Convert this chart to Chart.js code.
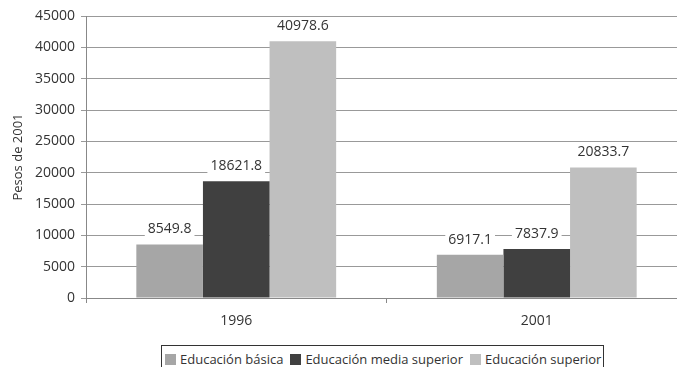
<!DOCTYPE html>
<html>
<head>
<meta charset="utf-8">
<script src="https://cdn.jsdelivr.net/npm/chart.js@4"></script>
<style>
  html, body { margin:0; padding:0; background:#fff; overflow:hidden; width:677px; height:367px; }
  #wrap { position:relative; width:677px; height:367px; overflow:hidden; }
  #legend {
    position:absolute; left:161px; top:345px; height:26px;
    border:1px solid #333; background:#fff;
    display:flex; align-items:center; padding:0 2px 4px 3px;
    font:13px "Open Sans", sans-serif; color:#333; white-space:nowrap;
  }
  #legend .item { display:flex; align-items:center; margin-right:7px; }
  #legend .item:last-child { margin-right:0; }
  #legend .sw { width:11px; height:11px; margin-right:4px; }
</style>
</head>
<body>
<div id="wrap">
  <canvas id="chart" width="687" height="367"></canvas>
  <div id="legend"></div>
</div>
<script>
// data
const years = ['1996', '2001'];
const basica = [8549.8, 6917.1];
const mediaSuperior = [18621.8, 7837.9];
const superior = [40978.6, 20833.7];
const seriesNames = ['Educación básica', 'Educación media superior', 'Educación superior'];
const seriesColors = ['#a6a6a6', '#404040', '#bfbfbf'];
const yTicks = [0, 5000, 10000, 15000, 20000, 25000, 30000, 35000, 40000, 45000];

const font = '"Open Sans", sans-serif';

// value labels with white box above each bar
const barLabels = {
  id: 'barLabels',
  afterDatasetsDraw(chart) {
    const ctx = chart.ctx;
    ctx.save();
    ctx.font = '14px ' + font;
    ctx.textAlign = 'center';
    ctx.textBaseline = 'middle';
    chart.data.datasets.forEach((ds, i) => {
      chart.getDatasetMeta(i).data.forEach((bar, j) => {
        const txt = String(ds.data[j]);
        const w = ctx.measureText(txt).width + 6;
        const cy = bar.y - 15;
        ctx.fillStyle = '#fff';
        ctx.fillRect(bar.x - w / 2, cy - 9, w, 18);
        ctx.fillStyle = '#333';
        ctx.fillText(txt, bar.x, cy);
      });
    });
    ctx.restore();
  }
};

new Chart(document.getElementById('chart'), {
  type: 'bar',
  data: {
    labels: years,
    datasets: [
      { label: seriesNames[0], data: basica, backgroundColor: seriesColors[0] },
      { label: seriesNames[1], data: mediaSuperior, backgroundColor: seriesColors[1] },
      { label: seriesNames[2], data: superior, backgroundColor: seriesColors[2] }
    ]
  },
  options: {
    responsive: false,
    animation: false,
    layout: { padding: { top: 16, right: 0, bottom: 0, left: 0 } },
    datasets: { bar: { categoryPercentage: 0.665, barPercentage: 1 } },
    plugins: { legend: { display: false }, tooltip: { enabled: false } },
    scales: {
      x: {
        grid: { drawOnChartArea: false, color: '#888', tickLength: 5 },
        border: { color: '#888' },
        ticks: { font: { size: 14, family: font }, color: '#333', padding: 10 },
        afterFit(s) { s.height = 69; }
      },
      y: {
        min: 0, max: 45000,
        afterBuildTicks(s) { s.ticks = yTicks.map(v => ({ value: v })); },
        grid: { color: '#999', tickLength: 5 },
        border: { color: '#888' },
        ticks: { font: { size: 14, family: font }, color: '#333', padding: 6, callback: v => String(v) },
        title: { display: true, text: 'Pesos de 2001', font: { size: 13, family: font }, color: '#333', padding: { top: 10, bottom: 0 } },
        afterFit(s) { s.width = 86; }
      }
    }
  },
  plugins: [barLabels]
});

// legend
const legend = document.getElementById('legend');
seriesNames.forEach((name, i) => {
  const item = document.createElement('span');
  item.className = 'item';
  item.innerHTML = '<span class="sw" style="background:' + seriesColors[i] + '"></span>' + name;
  legend.appendChild(item);
});
</script>
</body>
</html>
